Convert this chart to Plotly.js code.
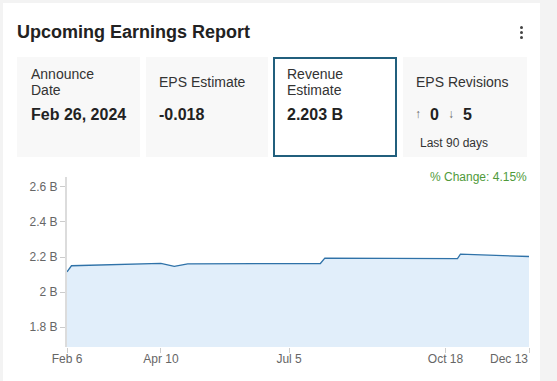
<!DOCTYPE html>
<html>
<head>
<meta charset="utf-8">
<script src="https://cdn.plot.ly/plotly-3.0.1.min.js"></script>
<style>
  html, body { margin: 0; padding: 0; }
  body { width: 557px; height: 381px; background: #f3f3f3; position: relative; overflow: hidden;
         font-family: "Liberation Sans", Arial, sans-serif; color: #333; }
  .card { position: absolute; left: 3px; top: 3px; width: 537px; height: 390px; background: #fff; }
  .t { position: absolute; white-space: nowrap; }
  .box { position: absolute; top: 57px; height: 100px; background: #f8f8f8; box-sizing: border-box; }
  .lbl { font-size: 14px; line-height: 16px; color: #333; }
  .val { font-size: 16px; line-height: 20px; font-weight: bold; color: #222; }
  .dot { position: absolute; width: 3px; height: 3px; border-radius: 50%; background: #444; left: 520px; }
  #chart { position: absolute; left: 0; top: 0; width: 557px; height: 381px; }
</style>
</head>
<body>
<div class="card"></div>
<div class="t" style="left:17px; top:20px; font-size:18px; line-height:24px; font-weight:bold; color:#222;">Upcoming Earnings Report</div>
<div class="dot" style="top:26px"></div>
<div class="dot" style="top:31px"></div>
<div class="dot" style="top:36px"></div>

<div class="box" style="left:17px; width:123px;"></div>
<div class="box" style="left:146px; width:122px;"></div>
<div class="box" style="left:273px; width:124px; background:#fff; border:2px solid #215f7d;"></div>
<div class="box" style="left:403px; width:124px;"></div>

<div id="cards"></div>
<div id="chart"></div>

<script>
// ---- data ----
const summaryLabels = ["Announce<br>Date", "EPS Estimate", "Revenue<br>Estimate", "EPS Revisions"];
const summaryValues = ["Feb 26, 2024", "-0.018", "2.203 B"];
const revisionsUp = 0;
const revisionsDown = 5;
const revisionsNote = "Last 90 days";

const dates = ["2023-02-06", "2023-02-09", "2023-04-10", "2023-04-19", "2023-04-28",
               "2023-07-26", "2023-07-29", "2023-10-26", "2023-10-28", "2023-12-13"];
const revenue = [2.115e9, 2.150e9, 2.164e9, 2.147e9, 2.161e9,
                 2.163e9, 2.194e9, 2.191e9, 2.216e9, 2.203e9];
const pctChangeText = "% Change: 4.15%";

const xTickVals = ["2023-02-06", "2023-04-10", "2023-07-05", "2023-10-18", "2023-12-13"];
const xTickText = ["Feb 6", "Apr 10", "Jul 5", "Oct 18", ""];
const xLastLabel = "Dec 13";
const yTickVals = [1.8e9, 2.0e9, 2.2e9, 2.4e9, 2.6e9];
const yTickText = ["1.8 B", "2 B", "2.2 B", "2.4 B", "2.6 B"];

// ---- summary cards (HTML text) ----
const cards = document.getElementById("cards");
const boxX = [31, 159, 287, 416];
function addText(html, left, top, cls, extraStyle) {
  const d = document.createElement("div");
  d.className = "t " + cls;
  d.style.left = left + "px";
  d.style.top = top + "px";
  if (extraStyle) d.style.cssText += extraStyle;
  d.innerHTML = html;
  cards.appendChild(d);
}
summaryLabels.forEach((l, i) => {
  const twoLine = l.indexOf("<br>") >= 0;
  addText(l, boxX[i], twoLine ? 66 : 74, "lbl");
});
summaryValues.forEach((v, i) => addText(v, boxX[i], 105, "val"));
addText("↑", 415, 107, "", "font-size:12px; line-height:14px; color:#666;");
addText(String(revisionsUp), 430, 105, "val");
addText("↓", 448, 107, "", "font-size:12px; line-height:14px; color:#666;");
addText(String(revisionsDown), 463, 105, "val");
addText(revisionsNote, 420, 136, "", "font-size:12px; line-height:14px; color:#333;");

// ---- chart ----
const trace = {
  x: dates, y: revenue, type: "scatter", mode: "lines",
  line: { color: "#2f72a8", width: 1.3 },
  fill: "tozeroy", fillcolor: "#e1eefa",
  hoverinfo: "skip"
};
const layout = {
  width: 557, height: 381,
  margin: { l: 67, r: 28, t: 177, b: 34 },
  paper_bgcolor: "rgba(0,0,0,0)", plot_bgcolor: "rgba(0,0,0,0)",
  font: { family: "Liberation Sans, Arial, sans-serif", size: 12, color: "#666" },
  showlegend: false,
  xaxis: {
    type: "date", range: ["2023-02-06", "2023-12-13"],
    tickmode: "array", tickvals: xTickVals, ticktext: xTickText,
    showgrid: false, zeroline: false, showline: false,
    ticks: "outside", ticklen: 5, tickcolor: "#ccc", tickwidth: 1,
    ticklabelstandoff: -4,
    tickfont: { size: 12, color: "#666" }
  },
  yaxis: {
    range: [1.686e9, 2.657e9],
    tickmode: "array", tickvals: yTickVals, ticktext: yTickText,
    showgrid: false, zeroline: false,
    showline: true, linecolor: "#dcdcdc", linewidth: 2,
    ticks: "outside", ticklen: 5, tickcolor: "#ccc", tickwidth: 1,
    tickfont: { size: 12, color: "#666" }
  },
  annotations: [
    { text: pctChangeText, xref: "paper", yref: "paper", x: 1, y: 1, xanchor: "right", yanchor: "middle",
      showarrow: false, font: { size: 12, color: "#4f9a3a" } },
    { text: xLastLabel, xref: "x", yref: "paper", x: xTickVals[xTickVals.length - 1], y: 0,
      xanchor: "right", yanchor: "top", yshift: -3, xshift: 1, showarrow: false,
      font: { size: 12, color: "#666" } }
  ]
};
Plotly.newPlot("chart", [trace], layout, { displayModeBar: false, staticPlot: true });
</script>
</body>
</html>
